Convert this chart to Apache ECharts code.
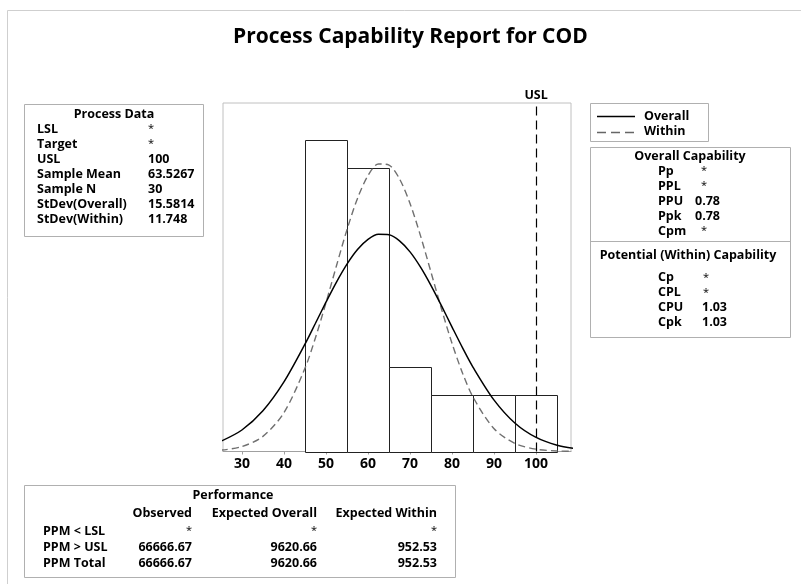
<!DOCTYPE html>
<html>
<head>
<meta charset="utf-8">
<script src="https://cdn.jsdelivr.net/npm/echarts@6/dist/echarts.min.js"></script>
<style>
html,body{margin:0;padding:0;background:#fff;}
#main{width:801px;height:584px;}
</style>
</head>
<body>
<div id="main"></div>
<script>
// ---- data ----
const binStart = [45, 55, 65, 75, 85, 95];
const binEnd   = [55, 65, 75, 85, 95, 105];
const counts   = [11, 10, 3, 2, 2, 2];
const curveX   = [25,30,35,40,45,47.5,50,52.5,55,57.5,60,62.5,65,67.5,70,72.5,75,77.5,80,82.5,85,90,95,100,105,110];
const overallY = [0.361,0.759,1.437,2.457,3.788,4.526,5.270,5.980,6.613,7.127,7.487,7.664,7.647,7.435,7.046,6.507,5.857,5.138,4.392,3.659,2.972,1.814,0.998,0.496,0.222,0.090];
const withinY  = [0.047,0.174,0.534,1.371,2.937,4.017,5.250,6.558,7.829,8.932,9.739,10.149,10.109,9.622,8.754,7.611,6.324,5.023,3.811,2.765,1.917,0.804,0.282,0.082,0.020,0.004];
const uslValue = 100;
const xTickLabels = [30, 40, 50, 60, 70, 80, 90, 100];

const processLabels = ['LSL','Target','USL','Sample Mean','Sample N','StDev(Overall)','StDev(Within)'];
const processValues = ['*','*','100','63.5267','30','15.5814','11.748'];
const overallCapLabels = ['Pp','PPL','PPU','Ppk','Cpm'];
const overallCapValues = ['*','*','0.78','0.78','*'];
const withinCapLabels = ['Cp','CPL','CPU','Cpk'];
const withinCapValues = ['*','*','1.03','1.03'];
const perfColumns = ['Observed','Expected Overall','Expected Within'];
const perfRows = ['PPM < LSL','PPM > USL','PPM Total'];
const perfObserved = ['*','66666.67','66666.67'];
const perfOverall  = ['*','9620.66','9620.66'];
const perfWithin   = ['*','952.53','952.53'];

// ---- build ----
const FONT = 'Open Sans';
const TXT = '#000';
const BOX = '#b0b0b0';
const chart = echarts.init(document.getElementById('main'), null, {renderer:'canvas'});

function txt(x, y, s, opt) {
  opt = opt || {};
  return {type:'text', x:x, y:y, z:100, silent:true, style:{
    text:s, fill:TXT, font:(opt.weight||'bold')+' '+(opt.size||12.5)+'px "'+FONT+'"',
    textAlign:opt.align||'left', textVerticalAlign:'middle'}};
}
function star(x, y) {
  return {type:'text', x:x, y:y, z:100, silent:true, style:{
    text:'*', fill:TXT, font:'normal 11px "'+FONT+'"', textAlign:'center', textVerticalAlign:'middle'}};
}
function rect(x, y, w, h) {
  return {type:'rect', z:90, silent:true, shape:{x:x+0.5,y:y+0.5,width:w,height:h},
    style:{fill:'#fff', stroke:BOX, lineWidth:1}};
}
function hline(x1, x2, y, color, dash) {
  return {type:'line', z:100, silent:true, shape:{x1:x1,y1:y+0.5,x2:x2,y2:y+0.5},
    style:{stroke:color, lineWidth:1.3, lineDash:dash||null}};
}

const g = [];
// outer frame
g.push({type:'line', silent:true, shape:{x1:7.5,y1:10.5,x2:801,y2:10.5}, style:{stroke:'#cfcfcf', lineWidth:1}});
g.push({type:'line', silent:true, shape:{x1:7.5,y1:10.5,x2:7.5,y2:584}, style:{stroke:'#cfcfcf', lineWidth:1}});

// process data box
g.push(rect(24, 104, 179, 132));
g.push(txt(114, 114, 'Process Data', {align:'center'}));
processLabels.forEach((l,i)=>{
  const y = 129 + i*15;
  g.push(txt(37, y, l));
  g.push(processValues[i]==='*' ? star(151, y) : txt(148, y, processValues[i]));
});

// legend box
g.push(rect(590, 103, 118, 38));
g.push(hline(597, 635, 116, '#000'));
g.push(txt(644, 116, 'Overall'));
g.push(hline(597, 635, 132, '#666', [9,5]));
g.push(txt(644, 131, 'Within'));

// capability box
g.push(rect(590, 147, 200, 190));
g.push({type:'line', z:100, silent:true, shape:{x1:590,y1:241.5,x2:790,y2:241.5}, style:{stroke:BOX,lineWidth:1}});
g.push(txt(690, 156, 'Overall Capability', {align:'center'}));
overallCapLabels.forEach((l,i)=>{
  const y = 171 + i*15;
  g.push(txt(658, y, l));
  g.push(overallCapValues[i]==='*' ? star(704, y) : txt(695, y, overallCapValues[i]));
});
g.push(txt(688, 255, 'Potential (Within) Capability', {align:'center'}));
withinCapLabels.forEach((l,i)=>{
  const y = 277.5 + i*15;
  g.push(txt(658, y, l));
  g.push(withinCapValues[i]==='*' ? star(706, y) : txt(702, y, withinCapValues[i]));
});

// performance box
g.push(rect(24, 485, 431, 92));
g.push(txt(233, 495, 'Performance', {align:'center'}));
const colRight = [192, 317, 437];
perfColumns.forEach((c,i)=> g.push(txt(colRight[i], 513, c, {align:'right'})));
const cols = [perfObserved, perfOverall, perfWithin];
perfRows.forEach((r,j)=>{
  const y = 531 + j*16;
  g.push(txt(43, y, r));
  cols.forEach((col,i)=>{
    g.push(col[j]==='*' ? star(colRight[i]-3, y) : txt(colRight[i], y, col[j], {align:'right'}));
  });
});

const barData = binStart.map((s,i)=>[s, binEnd[i], counts[i]]);

chart.setOption({
  animation:false,
  backgroundColor:'#fff',
  title:{text:'Process Capability Report for COD', left:228, top:22,
    textStyle:{fontFamily:FONT, fontSize:21, fontWeight:'bold', color:'#000'}},
  grid:{left:223, top:103, width:348, height:348.5, show:true, borderColor:'#c0c0c0', borderWidth:1, backgroundColor:'transparent'},
  xAxis:{type:'value', min:25.5, max:108.3, splitNumber:8,
    axisLine:{show:true, lineStyle:{color:'#a0a0a0'}},
    axisTick:{show:true, length:3, lineStyle:{color:'#a0a0a0'}},
    splitLine:{show:false},
    axisLabel:{showMinLabel:false, showMaxLabel:false, color:'#000', fontFamily:FONT, fontSize:14, fontWeight:'bold', margin:6,
      formatter:(v)=> xTickLabels.indexOf(v) >= 0 ? String(v) : ''}},
  yAxis:{type:'value', min:0, max:12.3, show:false, splitLine:{show:false}},
  graphic:g,
  series:[
    {type:'line', name:'USL', data:[], z:1,
      markLine:{silent:true, symbol:'none', animation:false,
        lineStyle:{color:'#000', type:[9,5], width:1.2},
        label:{show:true, position:'end', formatter:'USL', color:'#000', fontFamily:FONT, fontSize:12.5, fontWeight:'bold', distance:1},
        data:[{xAxis:uslValue}]}},
    {type:'custom', name:'Histogram', z:2,
      renderItem:function(params, api){
        const p1 = api.coord([api.value(0), api.value(2)]);
        const p2 = api.coord([api.value(1), 0]);
        return {type:'rect', shape:{x:Math.round(p1[0])+0.5, y:Math.round(p1[1])+0.5,
          width:Math.round(p2[0])-Math.round(p1[0]), height:Math.round(p2[1])-Math.round(p1[1])},
          style:{fill:'#fff', stroke:'#222', lineWidth:1}};
      },
      encode:{x:[0,1], y:2},
      data:barData},
    {type:'line', name:'Within', z:3, smooth:0.3, showSymbol:false, symbol:'none',
      lineStyle:{color:'#707070', width:1.4, type:[7,4]},
      data:curveX.map((x,i)=>[x, withinY[i]])},
    {type:'line', name:'Overall', z:4, smooth:0.3, showSymbol:false, symbol:'none',
      lineStyle:{color:'#000', width:1.5},
      data:curveX.map((x,i)=>[x, overallY[i]])}
  ]
});
</script>
</body>
</html>
